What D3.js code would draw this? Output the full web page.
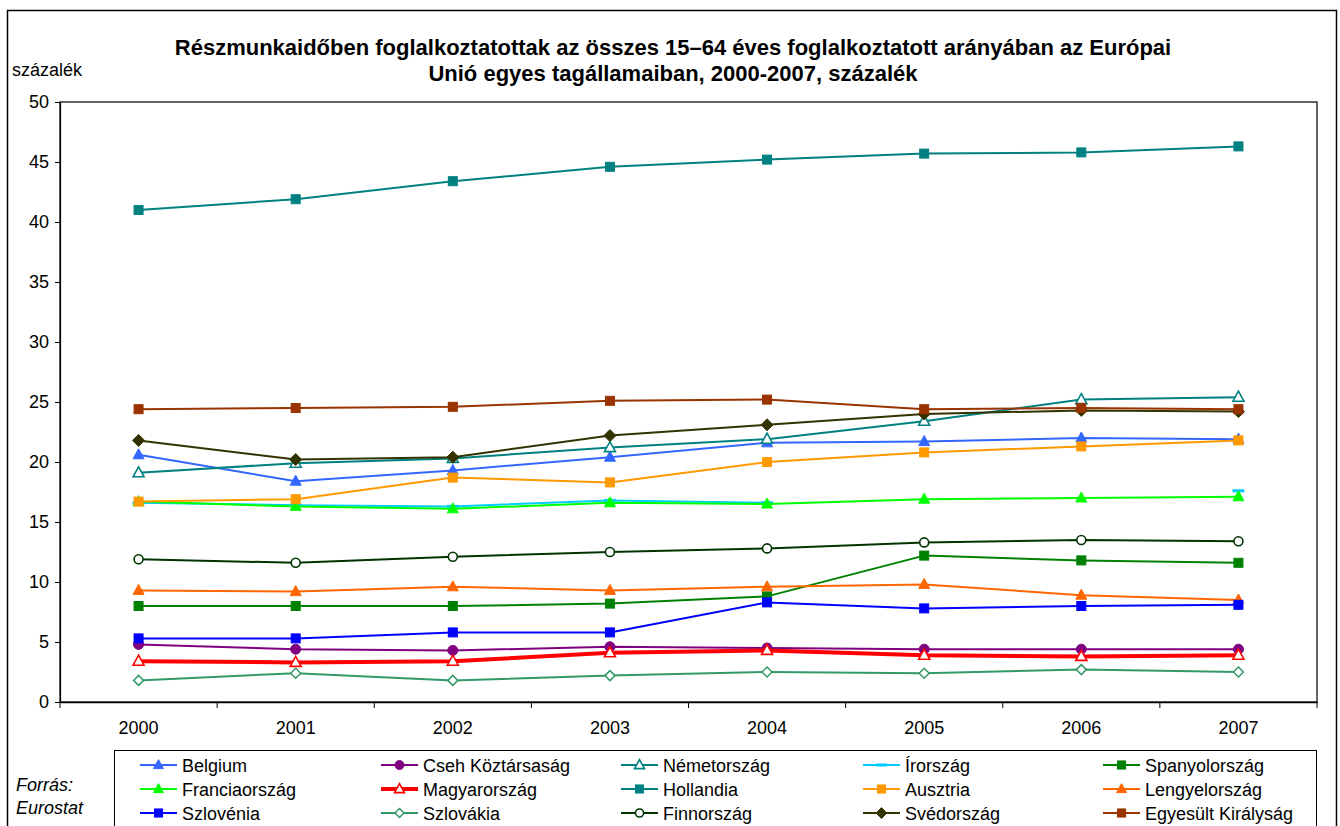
<!DOCTYPE html>
<html><head><meta charset="utf-8">
<script src="https://cdn.jsdelivr.net/npm/d3@7"></script>
<style>
body{margin:0;background:#fff;}
svg{font-family:"Liberation Sans",Arial,sans-serif;}
</style></head>
<body>
<svg id="c" width="1340" height="826"></svg>
<script>
const years = ["2000","2001","2002","2003","2004","2005","2006","2007"];
const yTicks = [0,5,10,15,20,25,30,35,40,45,50];
const titleLines = ["Részmunkaidőben foglalkoztatottak az összes 15–64 éves foglalkoztatott arányában az Európai","Unió egyes tagállamaiban, 2000-2007, százalék"];

const belgium      = [20.6,18.4,19.3,20.4,21.6,21.7,22.0,21.9];
const cseh         = [4.8,4.4,4.3,4.6,4.5,4.4,4.4,4.4];
const nemet        = [19.1,19.9,20.3,21.2,21.9,23.4,25.2,25.4];
const irorszag     = [16.6,16.4,16.3,16.8,16.6,null,null,17.6];
const spanyol      = [8.0,8.0,8.0,8.2,8.8,12.2,11.8,11.6];
const francia      = [16.7,16.3,16.1,16.6,16.5,16.9,17.0,17.1];
const magyar       = [3.4,3.3,3.4,4.1,4.3,3.9,3.8,3.9];
const holland      = [41.0,41.9,43.4,44.6,45.2,45.7,45.8,46.3];
const ausztria     = [16.7,16.9,18.7,18.3,20.0,20.8,21.3,21.8];
const lengyel      = [9.3,9.2,9.6,9.3,9.6,9.8,8.9,8.5];
const szlovenia    = [5.3,5.3,5.8,5.8,8.3,7.8,8.0,8.1];
const szlovakia    = [1.8,2.4,1.8,2.2,2.5,2.4,2.7,2.5];
const finn         = [11.9,11.6,12.1,12.5,12.8,13.3,13.5,13.4];
const sved         = [21.8,20.2,20.4,22.2,23.1,24.0,24.3,24.2];
const egyesult     = [24.4,24.5,24.6,25.1,25.2,24.4,24.5,24.4];

const seriesNames = ["Belgium","Cseh Köztársaság","Németország","Írország","Spanyolország","Franciaország","Magyarország","Hollandia","Ausztria","Lengyelország","Szlovénia","Szlovákia","Finnország","Svédország","Egyesült Királyság"];
const seriesValues = [belgium,cseh,nemet,irorszag,spanyol,francia,magyar,holland,ausztria,lengyel,szlovenia,szlovakia,finn,sved,egyesult];
const seriesColors = ["#3366FF","#800080","#008080","#00CCFF","#008000","#00FF00","#FF0000","#008080","#FF9900","#FF6600","#0000FF","#339966","#003300","#333300","#993300"];
const seriesMarkers = ["triangle","circle","triangleOpen","dash","square","triangle","triangleOpen","square","square","triangle","square","diamondOpen","circleOpen","diamond","square"];
const seriesWidths = [2,2,2,2,2,2,4,2,2,2,2,2,2,2,2];

const svg = d3.select("#c");
const plot = {l:60, t:102, r:1317, b:702};
const FS = 18;

// chart border
svg.append("rect").attr("x",7.5).attr("y",10.5).attr("width",1329).attr("height",830)
  .attr("fill","none").attr("stroke","#000").attr("stroke-width",1.5);

const x = d3.scaleBand().domain(years).range([plot.l, plot.r]).padding(0);
const y = d3.scaleLinear().domain([0,50]).range([plot.b, plot.t]);
const cx = d => x(d) + x.bandwidth()/2;

// plot area border
svg.append("rect").attr("x",plot.l).attr("y",plot.t).attr("width",plot.r-plot.l).attr("height",plot.b-plot.t)
  .attr("fill","none").attr("stroke","#000").attr("stroke-width",1.2);

// y axis
const ya = svg.append("g").attr("transform",`translate(${plot.l},0)`)
  .call(d3.axisLeft(y).tickValues(yTicks).tickSize(5).tickPadding(6).tickFormat(d3.format("d")));
ya.select(".domain").attr("stroke","#000").attr("stroke-width",1.2);
ya.selectAll("text").attr("font-size",FS).attr("fill","#000").attr("font-family","Liberation Sans, Arial, sans-serif");

// x axis
const xa = svg.append("g").attr("transform",`translate(0,${plot.b})`)
  .call(d3.axisBottom(x).tickSize(0).tickPadding(19));
xa.select(".domain").attr("stroke","#000").attr("stroke-width",1.5);
xa.selectAll("text").attr("font-size",FS).attr("fill","#000").attr("font-family","Liberation Sans, Arial, sans-serif");
const bounds = years.map(d => x(d)).concat([plot.r]);
xa.selectAll(".bt").data(bounds).enter().append("line").attr("class","bt")
  .attr("x1",d=>d).attr("x2",d=>d).attr("y1",0).attr("y2",6).attr("stroke","#000").attr("stroke-width",1);

// title
svg.append("g").selectAll("text").data(titleLines).enter().append("text")
  .attr("x",673).attr("y",(d,i)=>55+i*26).attr("text-anchor","middle")
  .attr("font-size",22).attr("font-weight","bold").text(d=>d);
svg.append("text").attr("x",12).attr("y",76).attr("font-size",FS).text("százalék");

// markers
function drawMarker(g, type, color, px, py, scale){
  const s = scale||1;
  if(type==="triangle"||type==="triangleOpen"){
    const h=10*s, w=11*s;
    g.append("path").attr("d",`M${px},${py-h*0.6}L${px+w/2},${py+h*0.4}L${px-w/2},${py+h*0.4}Z`)
      .attr("fill",type==="triangle"?color:"#fff").attr("stroke",color).attr("stroke-width",type==="triangle"?1:1.6);
  } else if(type==="square"){
    const a=9*s;
    g.append("rect").attr("x",px-a/2).attr("y",py-a/2).attr("width",a).attr("height",a).attr("fill",color).attr("stroke",color).attr("stroke-width",1);
  } else if(type==="circle"||type==="circleOpen"){
    g.append("circle").attr("cx",px).attr("cy",py).attr("r",type==="circle"?5*s:4.5*s)
      .attr("fill",type==="circle"?color:"#fff").attr("stroke",color).attr("stroke-width",type==="circle"?1:1.6);
  } else if(type==="diamond"||type==="diamondOpen"){
    const r=(type==="diamond"?6:5)*s;
    g.append("path").attr("d",`M${px},${py-r}L${px+r},${py}L${px},${py+r}L${px-r},${py}Z`)
      .attr("fill",type==="diamond"?color:"#fff").attr("stroke",color).attr("stroke-width",type==="diamond"?1:1.5);
  } else if(type==="dash"){
    g.append("rect").attr("x",px-6*s).attr("y",py-1.5).attr("width",12*s).attr("height",3).attr("fill",color);
  }
}

const line = d3.line().defined(d=>d.v!==null).x(d=>cx(d.year)).y(d=>y(d.v));
const series = svg.append("g");
seriesNames.forEach((name,i)=>{
  const data = years.map((yr,j)=>({year:yr, v:seriesValues[i][j]}));
  const g = series.append("g");
  g.append("path").datum(data).attr("d",line).attr("fill","none")
    .attr("stroke",seriesColors[i]).attr("stroke-width",seriesWidths[i]).attr("stroke-linejoin","round");
  data.filter(d=>d.v!==null).forEach(d=>drawMarker(g,seriesMarkers[i],seriesColors[i],cx(d.year),y(d.v)));
});

// legend
const legend = svg.append("g");
legend.append("rect").attr("x",114.5).attr("y",750.5).attr("width",1202).attr("height",90)
  .attr("fill","#fff").attr("stroke","#000").attr("stroke-width",1);
const colX = [182,423,663,905,1145];
const rowY = [765,789,813];
seriesNames.forEach((name,i)=>{
  const c = i%5, r = Math.floor(i/5);
  const tx = colX[c], ty = rowY[r];
  const g = legend.append("g");
  g.append("line").attr("x1",tx-42).attr("x2",tx-5).attr("y1",ty).attr("y2",ty)
    .attr("stroke",seriesColors[i]).attr("stroke-width",seriesWidths[i]);
  drawMarker(g,seriesMarkers[i],seriesColors[i],tx-23.5,ty,0.9);
  g.append("text").attr("x",tx).attr("y",ty+6.5).attr("font-size",FS).text(name);
});

svg.append("text").attr("x",16).attr("y",791).attr("font-size",FS).attr("font-style","italic").text("Forrás:");
svg.append("text").attr("x",16).attr("y",814).attr("font-size",FS).attr("font-style","italic").text("Eurostat");
</script>
</body></html>
